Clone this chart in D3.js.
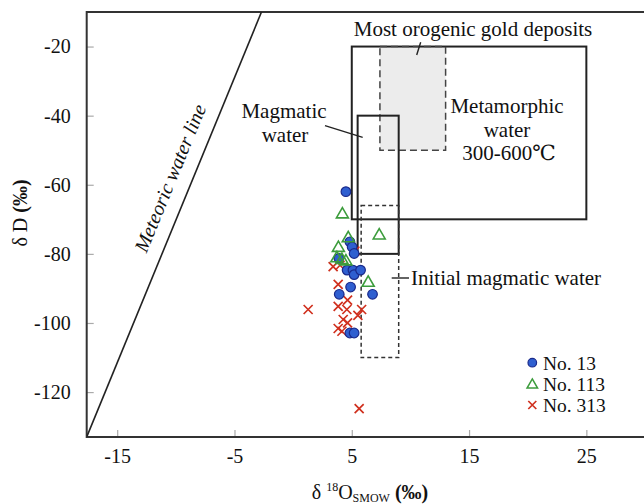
<!DOCTYPE html>
<html><head><meta charset="utf-8">
<script src="https://cdn.jsdelivr.net/npm/d3@7"></script>
<style>body{margin:0;background:#fff}svg{display:block}</style>
</head><body><svg id="c" width="644" height="504"></svg>
<script>
// ---- data ----
const xTicks = [-15, -5, 5, 15, 25];
const yTicks = [-20, -40, -60, -80, -100, -120];
const no13 = [[4.5,-62],[4.84,-76.5],[5.03,-78],[5.2,-79.9],[3.9,-81.3],[4.6,-84.7],[5.1,-84.7],[5.2,-86],[5.75,-84.7],[4.9,-89.6],[3.93,-91.7],[6.77,-91.7],[4.84,-102.9],[5.2,-102.9]];
const no113 = [[4.2,-68.3],[7.34,-74.4],[4.7,-75.2],[3.86,-78],[3.73,-81],[4.16,-81.5],[4.5,-81.9],[6.4,-88.1]];
const no313 = [[1.28,-96.1],[3.84,-88.8],[3.41,-83.7],[4.0,-83.3],[5.26,-79.2],[4.64,-93.4],[3.84,-95.2],[4.58,-96.1],[5.84,-96.1],[5.52,-97.8],[4.27,-99],[4.64,-100],[3.84,-101.6],[4.16,-102.4],[5.63,-124.8]];
const meteoricLine = [[-17.6,-133],[-2.7,-10]];
const boxes = {
  gold: {x0:7.4, x1:13, y0:-20, y1:-50},
  metamorphic: {x0:5, x1:25, y0:-20, y1:-70},
  magmatic: {x0:5.5, x1:9, y0:-40, y1:-80},
  initial: {x0:5.8, x1:9, y0:-66, y1:-110}
};
const legendItems = ["No. 13", "No. 113", "No. 313"];

// ---- chart ----
const FONT = "'Liberation Serif', 'Times New Roman', Times, 'DejaVu Serif', serif";
const svg = d3.select("#c");
const x = d3.scaleLinear().domain([-17.6, 30]).range([86.7, 645]);
const y = d3.scaleLinear().domain([-133, -10]).range([437, 12]);
const blue = "#2f5fd0", blueS = "#1a2a8c", green = "#3c9c3c", red = "#d0301e";

svg.append("defs").append("clipPath").attr("id","clip")
  .append("rect").attr("x",86.7).attr("y",12).attr("width",560).attr("height",425);

// ticks (inward)
const xAxis = d3.axisBottom(x).tickValues(xTicks).tickSize(-7).tickPadding(12).tickFormat(d3.format("d"));
const yAxis = d3.axisLeft(y).tickValues(yTicks).tickSize(-7).tickPadding(16).tickFormat(d3.format("d"));
const gx = svg.append("g").attr("transform","translate(0,437)").call(xAxis);
const gy = svg.append("g").attr("transform","translate(86.7,0)").call(yAxis);
[gx, gy].forEach(g => {
  g.select(".domain").remove();
  g.selectAll(".tick line").attr("stroke","#aaa").attr("stroke-width",1.2);
  g.selectAll(".tick text").style("font-size","20px").style("font-family",FONT).attr("fill","#111")
    .text(d => d < 0 ? "-" + Math.abs(d) : d);
});
gx.selectAll(".tick text").attr("dy","0.71em");

// frame
svg.append("path").attr("d",`M645,12H86.7V437H645`).attr("fill","none").attr("stroke","#333").attr("stroke-width",2);

// meteoric water line
svg.append("line").attr("clip-path","url(#clip)")
  .attr("x1",x(meteoricLine[0][0])).attr("y1",y(meteoricLine[0][1]))
  .attr("x2",x(meteoricLine[1][0])).attr("y2",y(meteoricLine[1][1]))
  .attr("stroke","#222").attr("stroke-width",1.6);

function rect(b){ return {x:x(b.x0), y:y(b.y0), w:x(b.x1)-x(b.x0), h:y(b.y1)-y(b.y0)}; }
const rg = rect(boxes.gold);
svg.append("rect").attr("x",rg.x).attr("y",rg.y).attr("width",rg.w).attr("height",rg.h).attr("fill","#ececec");
const rm = rect(boxes.metamorphic);
svg.append("rect").attr("x",rm.x).attr("y",rm.y).attr("width",rm.w).attr("height",rm.h).attr("fill","none").attr("stroke","#222").attr("stroke-width",2);
svg.append("rect").attr("x",rg.x).attr("y",rg.y).attr("width",rg.w).attr("height",rg.h).attr("fill","none").attr("stroke","#444").attr("stroke-width",1.5).attr("stroke-dasharray","7,4");
const rmg = rect(boxes.magmatic);
svg.append("rect").attr("x",rmg.x).attr("y",rmg.y).attr("width",rmg.w).attr("height",rmg.h).attr("fill","none").attr("stroke","#222").attr("stroke-width",2);
const ri = rect(boxes.initial);
svg.append("rect").attr("x",ri.x).attr("y",ri.y).attr("width",ri.w).attr("height",ri.h).attr("fill","none").attr("stroke","#333").attr("stroke-width",1.5).attr("stroke-dasharray","4,3");

// leader lines
const leaders = [[420.7,42.3,416.7,55],[325,125.7,362.7,137.3],[391.7,278,409,278]];
svg.selectAll(".ld").data(leaders).join("line").attr("x1",d=>d[0]).attr("y1",d=>d[1]).attr("x2",d=>d[2]).attr("y2",d=>d[3]).attr("stroke","#222").attr("stroke-width",1.4);

// annotation text
const ann = [
  ["Most orogenic gold deposits",473,36,"middle"],
  ["Magmatic",284,118,"middle"],["water",285,141.5,"middle"],
  ["Metamorphic",507,113,"middle"],["water",507,136.5,"middle"],["300-600℃",509,160,"middle"],
  ["Initial magmatic water",411,285,"start"]
];
svg.selectAll(".an").data(ann).join("text").attr("x",d=>d[1]).attr("y",d=>d[2]).attr("text-anchor",d=>d[3])
  .style("font-family",FONT).style("font-size","21px").attr("fill","#111").text(d=>d[0]);
svg.append("text").attr("transform","translate(170,178) rotate(-67.6)").attr("text-anchor","middle").attr("dy","0.35em")
  .style("font-family",FONT).style("font-size","20px").style("font-style","italic").attr("fill","#111").text("Meteoric water line");

// points
function cross(sel, cx, cy, s){
  sel.append("path").attr("d",`M${cx-s},${cy-s}L${cx+s},${cy+s}M${cx-s},${cy+s}L${cx+s},${cy-s}`)
    .attr("stroke",red).attr("stroke-width",1.7).attr("fill","none");
}
const pts = svg.append("g");
no313.forEach(d => cross(pts, x(d[0]), y(d[1]), 4.5));
pts.selectAll(".c").data(no13).join("circle").attr("cx",d=>x(d[0])).attr("cy",d=>y(d[1])).attr("r",4.8)
  .attr("fill",blue).attr("stroke",blueS).attr("stroke-width",1.2);
const tri = d3.symbol().type(d3.symbolTriangle).size(62);
pts.selectAll(".t").data(no113).join("path").attr("d",tri).attr("transform",d=>`translate(${x(d[0])},${y(d[1])+1})`)
  .attr("fill","none").attr("stroke",green).attr("stroke-width",1.6);

// legend
const lx = 532.3, ly = [362.7, 384, 405];
svg.append("circle").attr("cx",lx).attr("cy",ly[0]).attr("r",4.3).attr("fill",blue).attr("stroke",blueS).attr("stroke-width",1.2);
svg.append("path").attr("d",d3.symbol().type(d3.symbolTriangle).size(48)).attr("transform",`translate(${lx},${ly[1]+1})`).attr("fill","none").attr("stroke",green).attr("stroke-width",1.5);
cross(svg, lx, ly[2], 4);
svg.selectAll(".lg").data(legendItems).join("text").attr("x",543).attr("y",(d,i)=>ly[i]).attr("dy","0.35em")
  .style("font-family",FONT).style("font-size","19.5px").attr("fill","#111").text(d=>d);

// axis titles
const yt = svg.append("text").attr("transform","translate(27,213) rotate(-90)").attr("text-anchor","middle")
  .style("font-family",FONT).style("font-size","20px").attr("fill","#111");
yt.append("tspan").text("δ D ");
yt.append("tspan").attr("font-weight","bold").text("(‰)");
const xt = svg.append("text").attr("x",370).attr("y",499).attr("text-anchor","middle")
  .style("font-family",FONT).style("font-size","20px").attr("fill","#111");
xt.append("tspan").text("δ ");
xt.append("tspan").style("font-size","12px").attr("dy",-8).text("18");
xt.append("tspan").attr("dy",8).text("O");
xt.append("tspan").style("font-size","12px").attr("dy",3).text("SMOW");
xt.append("tspan").attr("dy",-3).text(" ");
xt.append("tspan").attr("font-weight","bold").text("(‰)");
</script></body></html>
